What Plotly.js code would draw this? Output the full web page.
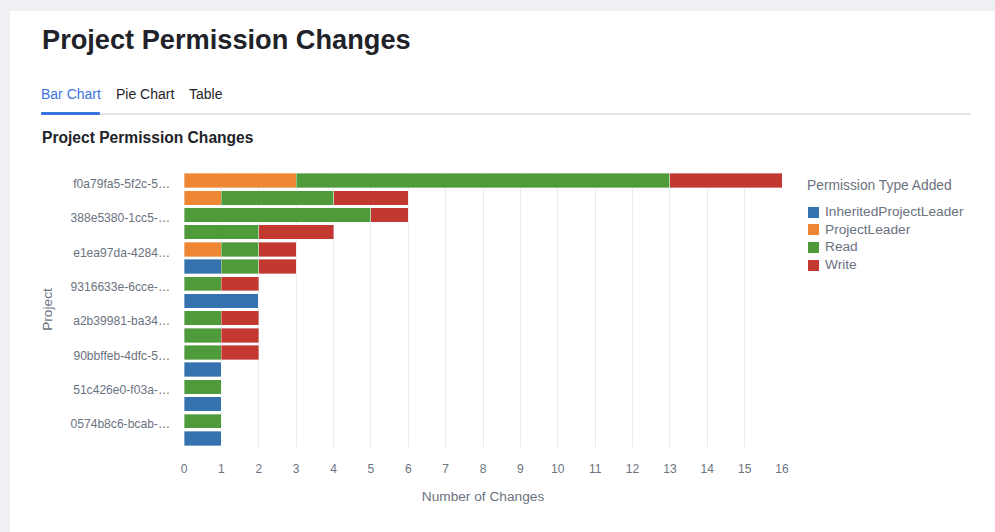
<!DOCTYPE html>
<html>
<head>
<meta charset="utf-8">
<script src="https://cdn.plot.ly/plotly-3.0.1.min.js"></script>
<style>
  html, body { margin: 0; padding: 0; }
  body { width: 995px; height: 532px; overflow: hidden; background: #eef0f4; font-family: "Liberation Sans", Arial, sans-serif; position: relative; }
  .card { position: absolute; left: 10px; top: 11px; width: 1000px; height: 540px; background: #ffffff; }
  h1 { position: absolute; left: 42px; top: 24px; margin: 0; font-size: 27.2px; font-weight: bold; color: #1f2329; line-height: 32px; }
  .tabs { position: absolute; left: 41px; top: 86px; font-size: 14px; color: #1f2329; }
  .tabs span { position: absolute; white-space: nowrap; }
  .tabline { position: absolute; left: 41px; top: 113px; width: 930px; height: 2px; background: #e5e7eb; }
  .tabactive { position: absolute; left: 41px; top: 112px; width: 59px; height: 3px; background: #3b73e0; border-radius: 1px; }
  h2 { position: absolute; left: 42px; top: 129px; margin: 0; font-size: 15.6px; font-weight: bold; color: #1f2329; line-height: 18px; }
  #chart { position: absolute; left: 0; top: 150px; width: 995px; height: 382px; }
  .legend { position: absolute; left: 807px; top: 177px; color: #6b7280; font-size: 13.8px; }
  .legend .lt { white-space: nowrap; line-height: 18px; margin-bottom: 8px; }
  .legend .li { white-space: nowrap; line-height: 17.7px; height: 17.7px; position: relative; padding-left: 18px; font-size: 13.7px; }
  .legend .sw { position: absolute; left: 1px; top: 3.5px; width: 11px; height: 11px; }
</style>
</head>
<body>
<div class="card"></div>
<h1>Project Permission Changes</h1>
<div class="tabs">
  <span style="left:0; color:#3b73e0;">Bar Chart</span>
  <span style="left:75px;">Pie Chart</span>
  <span style="left:148px;">Table</span>
</div>
<div class="tabline"></div>
<div class="tabactive"></div>
<h2>Project Permission Changes</h2>
<div id="chart"></div>
<div class="legend" id="legend"></div>
<script>
// Projects, top to bottom
const projects = [
  "f0a79fa5-5f2c-5…", "6c2d81b4-93ae-…", "388e5380-1cc5-…", "b71f02c9-5d3e-…",
  "e1ea97da-4284…", "3a9c7e12-f6b0-…", "9316633e-6cce-…", "d48b2e7f-0a19-…",
  "a2b39981-ba34…", "7e05c3d1-28fa-…", "90bbffeb-4dfc-5…", "c6f1a893-4b72-…",
  "51c426e0-f03a-…", "2f8d9b5a-e6c4-…", "0574b8c6-bcab-…", "8b3e47d0-1f95-…"
];
const inheritedProjectLeader = [0, 0, 0, 0, 0, 1, 0, 2, 0, 0, 0, 1, 0, 1, 0, 1];
const projectLeader          = [3, 1, 0, 0, 1, 0, 0, 0, 0, 0, 0, 0, 0, 0, 0, 0];
const read                   = [10, 3, 5, 2, 1, 1, 1, 0, 1, 1, 1, 0, 1, 0, 1, 0];
const write                  = [3, 2, 1, 2, 1, 1, 1, 0, 1, 1, 1, 0, 0, 0, 0, 0];
const xTicks = [0, 1, 2, 3, 4, 5, 6, 7, 8, 9, 10, 11, 12, 13, 14, 15, 16];
const seriesNames = ["InheritedProjectLeader", "ProjectLeader", "Read", "Write"];
const legendTitle = "Permission Type Added";

const seriesVals = [inheritedProjectLeader, projectLeader, read, write];
const colors = ["#3572b0", "#ee8633", "#4f9b3b", "#c33932"];

const traces = seriesNames.map((name, i) => ({
  type: "bar",
  orientation: "h",
  name: name,
  y: projects,
  x: seriesVals[i],
  marker: { color: colors[i], line: { color: "rgba(255,255,255,0.6)", width: 0.6 } },
  hoverinfo: "x+y+name"
}));

const layout = {
  width: 995,
  height: 382,
  barmode: "stack",
  bargap: 0.16,
  paper_bgcolor: "rgba(0,0,0,0)",
  plot_bgcolor: "#ffffff",
  margin: { l: 184, r: 213, t: 22, b: 85 },
  font: { family: "Liberation Sans, Arial, sans-serif", size: 12, color: "#6b7280" },
  xaxis: {
    range: [0, 16],
    tickmode: "array",
    tickvals: xTicks,
    showgrid: true,
    gridcolor: "#e8eaf1",
    gridwidth: 1,
    zeroline: false,
    showline: false,
    ticks: "",
    ticklabelstandoff: 13,
    tickfont: { size: 12, color: "#6b7280" },
    title: { text: "Number of Changes", font: { size: 13.7, color: "#6b7280" }, standoff: 16 }
  },
  yaxis: {
    type: "category",
    categoryorder: "array",
    categoryarray: projects,
    autorange: "reversed",
    tickmode: "linear",
    tick0: 0,
    dtick: 2,
    showgrid: false,
    zeroline: false,
    showline: false,
    ticks: "",
    ticklabelstandoff: 13,
    ticklabelshift: -3,
    tickfont: { size: 12.1, color: "#6b7280" },
    title: { text: "Project", font: { size: 13.7, color: "#6b7280" }, standoff: 14 }
  },
  showlegend: false
};

Plotly.newPlot("chart", traces, layout, { displayModeBar: false, responsive: false });

// Legend (HTML), built from the series names and colours
const lg = document.getElementById("legend");
const t = document.createElement("div");
t.className = "lt";
t.textContent = legendTitle;
lg.appendChild(t);
seriesNames.forEach((n, i) => {
  const d = document.createElement("div");
  d.className = "li";
  const s = document.createElement("span");
  s.className = "sw";
  s.style.background = colors[i];
  d.appendChild(s);
  d.appendChild(document.createTextNode(n));
  lg.appendChild(d);
});
</script>
</body>
</html>
